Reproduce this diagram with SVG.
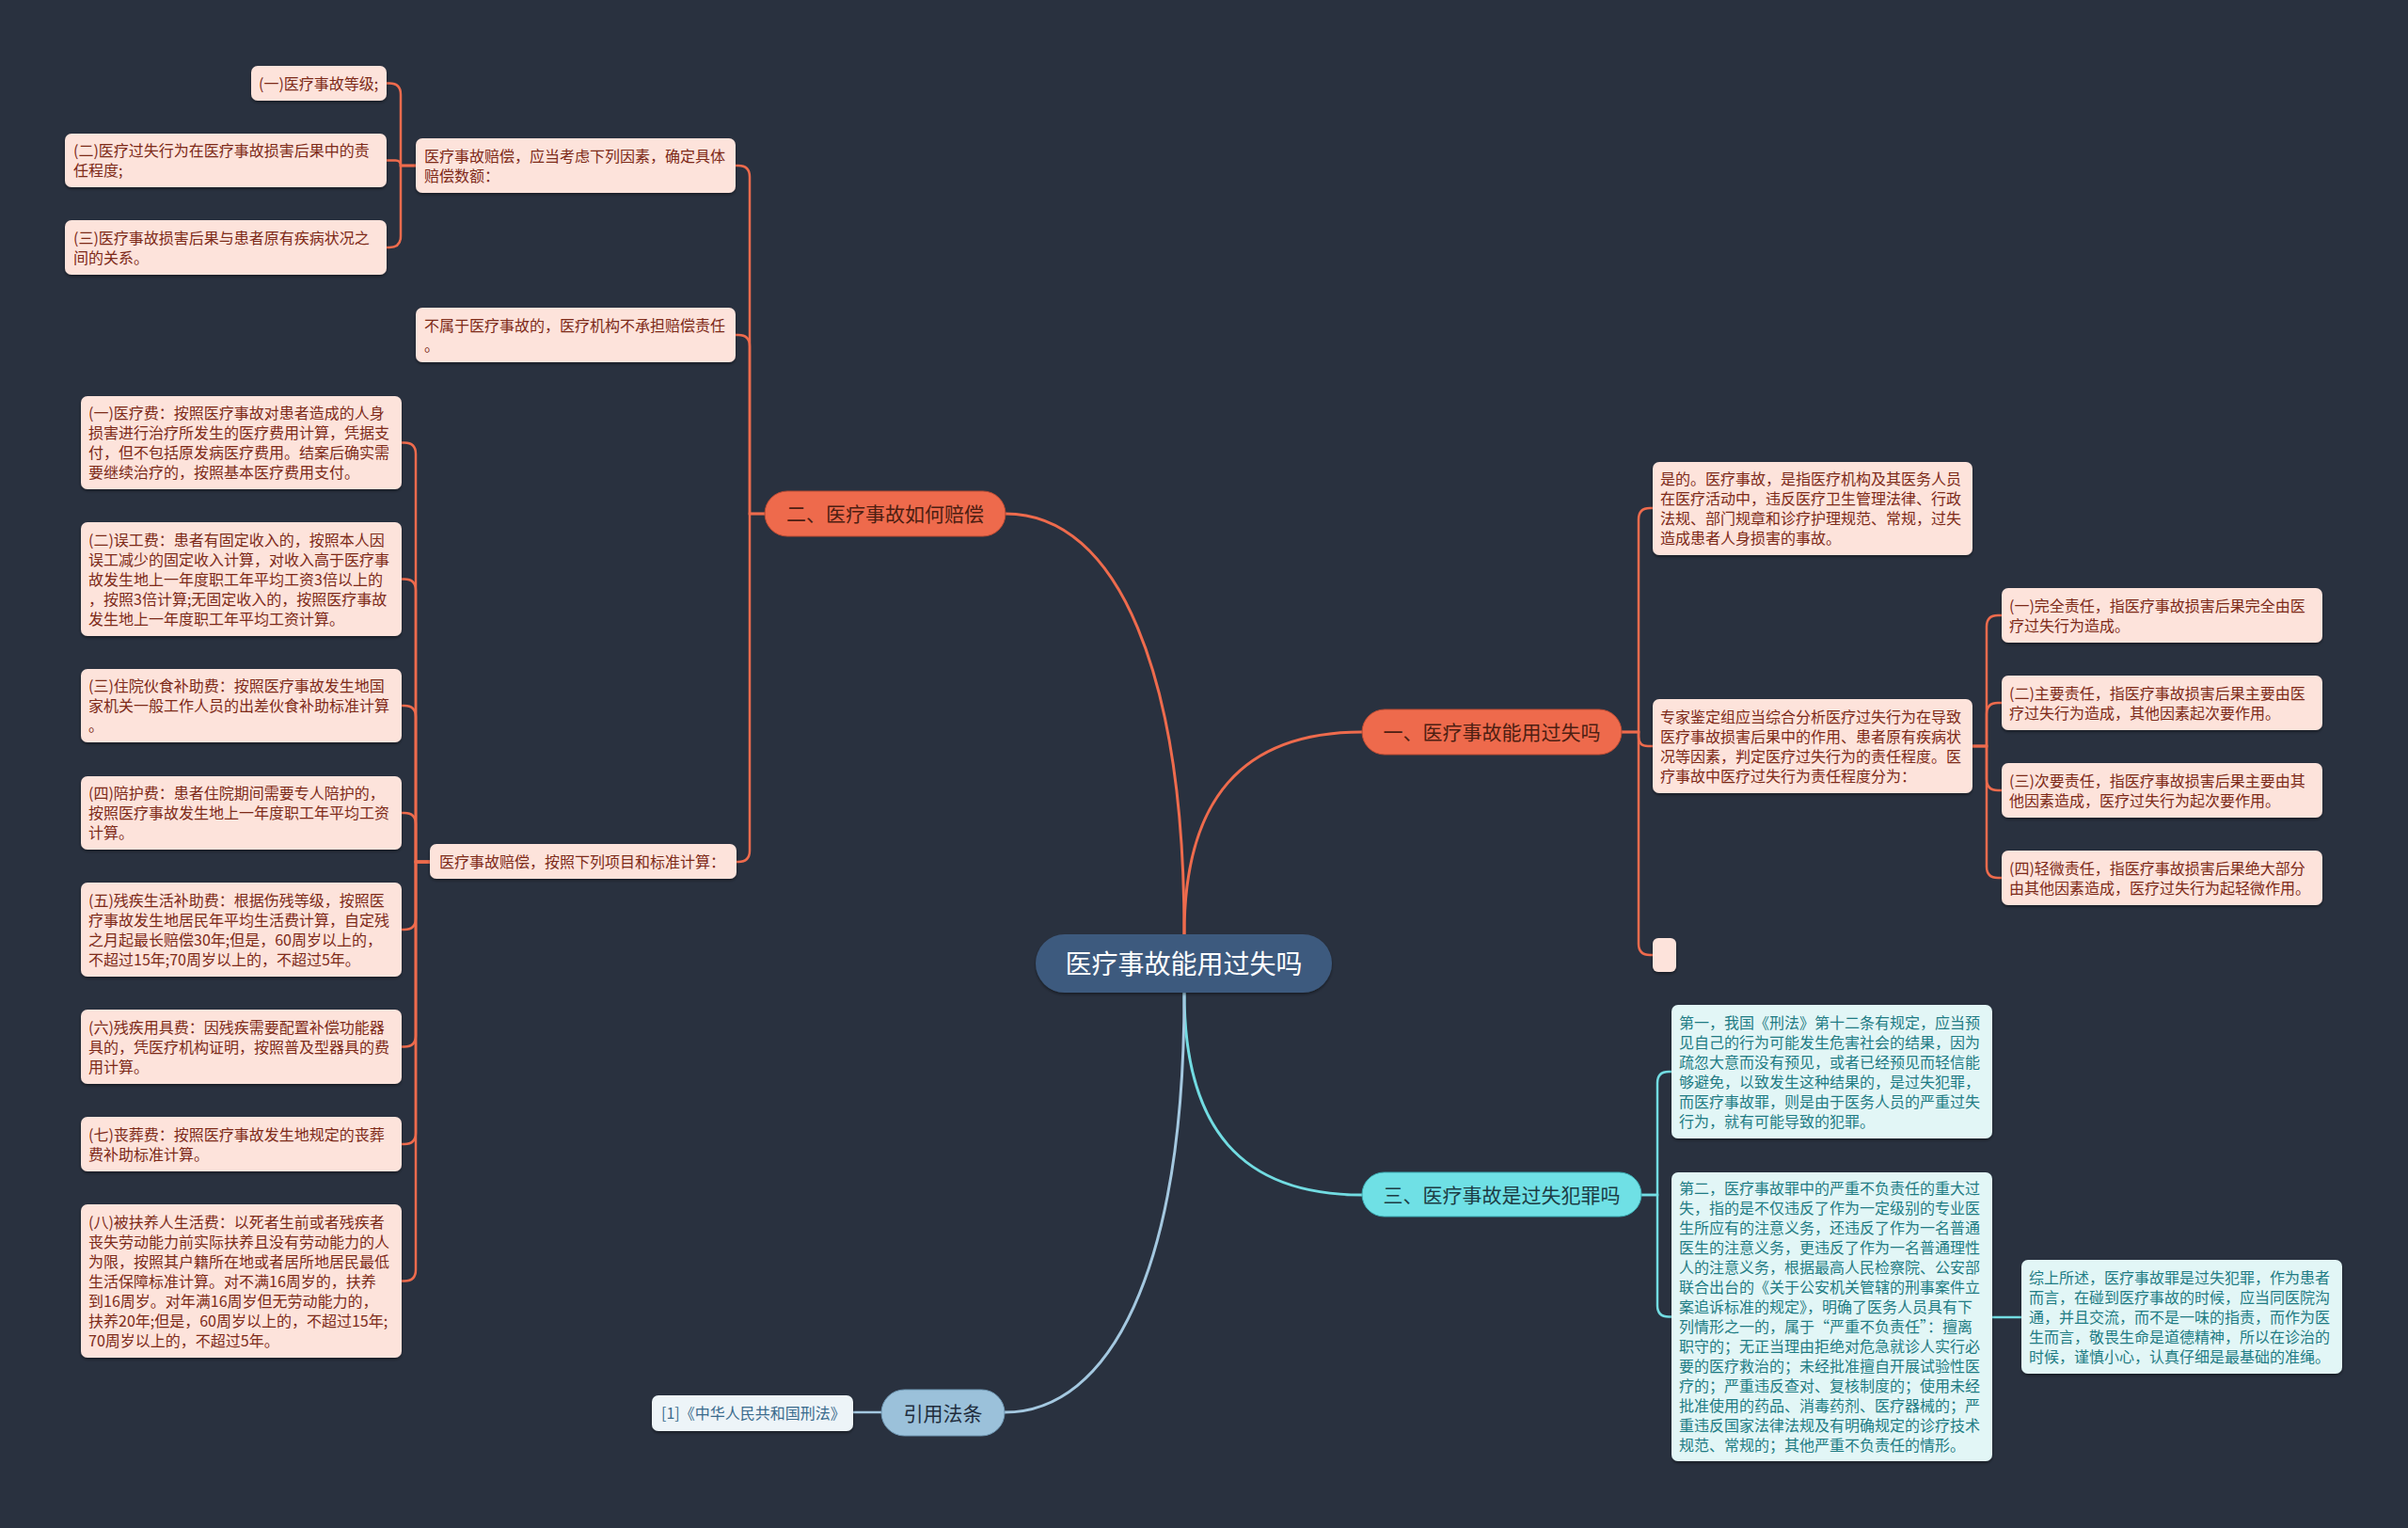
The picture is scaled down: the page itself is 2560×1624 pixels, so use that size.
<svg xmlns="http://www.w3.org/2000/svg" width="2560" height="1624" viewBox="0 0 2560 1624">
<defs>
<filter id="sh" x="-10%" y="-10%" width="120%" height="130%">
<feDropShadow dx="0" dy="2" stdDeviation="1.5" flood-color="#000" flood-opacity="0.4"/>
</filter>
<style>
text{font-family:"Noto Sans CJK SC","Noto Sans",sans-serif;}
.lo{fill:#fde3db;filter:url(#sh);}
.lc{fill:#e2f6f6;filter:url(#sh);}
.tl{font-size:16px;fill:#7d2a18;}
.tc{font-size:16px;fill:#1f7c84;}
.co{fill:none;stroke:#ee6b4d;stroke-width:2.5;}
.cc{fill:none;stroke:#72dce2;stroke-width:2.5;}
.cb{fill:none;stroke:#a4c8e0;stroke-width:2.5;}
.bo{fill:#ee6a4c;stroke:#b84a33;stroke-width:1;}
.bt{font-size:21px;fill:#4d1e12;text-anchor:middle;}
</style>
</defs>
<rect width="2560" height="1624" fill="#29313f"/>

<g id="connectors">
<path class="co" style="stroke-width:3" d="M1259 993 C1259 720 1190 546 1069 546"/>
<path class="co" style="stroke-width:3" d="M1259 993 C1259 850 1320 778 1448 778"/>
<path class="cc" style="stroke-width:3" d="M1259 1055 C1259 1200 1320 1270 1448 1270"/>
<path class="cb" style="stroke-width:3" d="M1259 1055 C1259 1350 1180 1501 1068 1501"/>

<path class="co" d="M813 546 H797 V188 Q797 176 785 176 H782"/>
<path class="co" d="M813 546 H797 V368 Q797 356 785 356 H782"/>
<path class="co" d="M813 546 H797 V904 Q797 916 785 916 H782"/>

<path class="co" d="M442 176 H426 V100.5 Q426 88.5 414 88.5 H411"/>
<path class="co" d="M442 176 H426 Q426 170.5 420.5 170.5 H411"/>
<path class="co" d="M442 176 H426 V251 Q426 263 414 263 H411"/>

<path class="co" d="M457 916 H442 V482.5 Q442 470.5 430 470.5 H427"/>
<path class="co" d="M457 916 H442 V627.5 Q442 615.5 430 615.5 H427"/>
<path class="co" d="M457 916 H442 V762 Q442 750 430 750 H427"/>
<path class="co" d="M457 916 H442 V876 Q442 864 430 864 H427"/>
<path class="co" d="M457 916 H442 V976 Q442 988 430 988 H427"/>
<path class="co" d="M457 916 H442 V1100.5 Q442 1112.5 430 1112.5 H427"/>
<path class="co" d="M457 916 H442 V1204 Q442 1216 430 1216 H427"/>
<path class="co" d="M457 916 H442 V1349.5 Q442 1361.5 430 1361.5 H427"/>

<path class="co" d="M1724 778 H1742 V552 Q1742 540 1754 540 H1757"/>
<path class="co" d="M1724 778 H1742 V783 Q1742 793 1752 793 H1757"/>
<path class="co" d="M1724 778 H1742 V1003 Q1742 1015 1754 1015 H1757"/>

<path class="co" d="M2097 793 H2112 V666 Q2112 654 2124 654 H2128"/>
<path class="co" d="M2097 793 H2112 V759 Q2112 747 2124 747 H2128"/>
<path class="co" d="M2097 793 H2112 V828 Q2112 840 2124 840 H2128"/>
<path class="co" d="M2097 793 H2112 V921 Q2112 933 2124 933 H2128"/>

<path class="cc" d="M1745 1270 H1762 V1151 Q1762 1139 1774 1139 H1777"/>
<path class="cc" d="M1745 1270 H1762 V1387.5 Q1762 1399.5 1774 1399.5 H1777"/>
<path class="cc" d="M2118 1400 H2149"/>

<path class="cb" d="M937 1501 H907"/>
</g>

<g id="root">
<rect x="1101" y="993" width="315" height="62" rx="31" fill="#3e5a7e" filter="url(#sh)"/>
<text x="1258.5" y="1034.5" font-size="28" fill="#ffffff" text-anchor="middle">医疗事故能用过失吗</text>
</g>

<g id="branch1">
<rect class="bo" x="1448" y="754" width="276" height="48" rx="24"/>
<text class="bt" x="1586" y="786">一、医疗事故能用过失吗</text>
</g>
<g id="branch2">
<rect class="bo" x="813" y="522" width="256" height="48" rx="24"/>
<text class="bt" x="941" y="554">二、医疗事故如何赔偿</text>
</g>
<g id="branch3">
<rect x="1448" y="1246" width="297" height="47" rx="23.5" fill="#6fe0e5" stroke="#3aa9b0" stroke-width="1"/>
<text x="1596.5" y="1277.5" font-size="21" fill="#1c3c44" text-anchor="middle">三、医疗事故是过失犯罪吗</text>
</g>
<g id="branch4">
<rect x="937" y="1477" width="131" height="49" rx="24.5" fill="#9bc1da" stroke="#6f97b3" stroke-width="1"/>
<text x="1002.5" y="1509.5" font-size="21" fill="#1f2d3d" text-anchor="middle">引用法条</text>
</g>
<g id="cite1">
<rect x="693" y="1483" width="214" height="38" rx="7" fill="#edf4f8" filter="url(#sh)"/>
<text x="703" y="1508" font-size="16" fill="#3a6a8c">[1]《中华人民共和国刑法》</text>
</g>

<g id="p1">
<rect class="lo" x="442" y="147" width="340" height="58" rx="7"/>
<text class="tl" x="451" y="171.5">医疗事故赔偿，应当考虑下列因素，确定具体<tspan x="451" dy="21">赔偿数额：</tspan></text>
</g>
<g id="a1">
<rect class="lo" x="267" y="70" width="144" height="37" rx="7"/>
<text class="tl" x="275" y="94.5">(一)医疗事故等级;</text>
</g>
<g id="a2">
<rect class="lo" x="69" y="142" width="342" height="57" rx="7"/>
<text class="tl" x="78" y="166">(二)医疗过失行为在医疗事故损害后果中的责<tspan x="78" dy="21">任程度;</tspan></text>
</g>
<g id="a3">
<rect class="lo" x="69" y="234" width="342" height="58" rx="7"/>
<text class="tl" x="78" y="258.5">(三)医疗事故损害后果与患者原有疾病状况之<tspan x="78" dy="21">间的关系。</tspan></text>
</g>
<g id="p2">
<rect class="lo" x="442" y="327" width="340" height="58" rx="7"/>
<text class="tl" x="451" y="351.5">不属于医疗事故的，医疗机构不承担赔偿责任<tspan x="451" dy="21">。</tspan></text>
</g>
<g id="p3">
<rect class="lo" x="457" y="897" width="326" height="37" rx="7"/>
<text class="tl" x="467" y="921.5">医疗事故赔偿，按照下列项目和标准计算：</text>
</g>

<g id="b1">
<rect class="lo" x="86" y="421" width="341" height="99" rx="7"/>
<text class="tl" x="94" y="445">(一)医疗费：按照医疗事故对患者造成的人身<tspan x="94" dy="21">损害进行治疗所发生的医疗费用计算，凭据支</tspan><tspan x="94" dy="21">付，但不包括原发病医疗费用。结案后确实需</tspan><tspan x="94" dy="21">要继续治疗的，按照基本医疗费用支付。</tspan></text>
</g>
<g id="b2">
<rect class="lo" x="86" y="555" width="341" height="121" rx="7"/>
<text class="tl" x="94" y="579.5">(二)误工费：患者有固定收入的，按照本人因<tspan x="94" dy="21">误工减少的固定收入计算，对收入高于医疗事</tspan><tspan x="94" dy="21">故发生地上一年度职工年平均工资3倍以上的</tspan><tspan x="94" dy="21">，按照3倍计算;无固定收入的，按照医疗事故</tspan><tspan x="94" dy="21">发生地上一年度职工年平均工资计算。</tspan></text>
</g>
<g id="b3">
<rect class="lo" x="86" y="711" width="341" height="78" rx="7"/>
<text class="tl" x="94" y="735">(三)住院伙食补助费：按照医疗事故发生地国<tspan x="94" dy="21">家机关一般工作人员的出差伙食补助标准计算</tspan><tspan x="94" dy="21">。</tspan></text>
</g>
<g id="b4">
<rect class="lo" x="86" y="825" width="341" height="78" rx="7"/>
<text class="tl" x="94" y="849">(四)陪护费：患者住院期间需要专人陪护的，<tspan x="94" dy="21">按照医疗事故发生地上一年度职工年平均工资</tspan><tspan x="94" dy="21">计算。</tspan></text>
</g>
<g id="b5">
<rect class="lo" x="86" y="938" width="341" height="100" rx="7"/>
<text class="tl" x="94" y="962.5">(五)残疾生活补助费：根据伤残等级，按照医<tspan x="94" dy="21">疗事故发生地居民年平均生活费计算，自定残</tspan><tspan x="94" dy="21">之月起最长赔偿30年;但是，60周岁以上的，</tspan><tspan x="94" dy="21">不超过15年;70周岁以上的，不超过5年。</tspan></text>
</g>
<g id="b6">
<rect class="lo" x="86" y="1073" width="341" height="79" rx="7"/>
<text class="tl" x="94" y="1097.5">(六)残疾用具费：因残疾需要配置补偿功能器<tspan x="94" dy="21">具的，凭医疗机构证明，按照普及型器具的费</tspan><tspan x="94" dy="21">用计算。</tspan></text>
</g>
<g id="b7">
<rect class="lo" x="86" y="1187" width="341" height="58" rx="7"/>
<text class="tl" x="94" y="1211.5">(七)丧葬费：按照医疗事故发生地规定的丧葬<tspan x="94" dy="21">费补助标准计算。</tspan></text>
</g>
<g id="b8">
<rect class="lo" x="86" y="1280" width="341" height="163" rx="7"/>
<text class="tl" x="94" y="1304.5">(八)被扶养人生活费：以死者生前或者残疾者<tspan x="94" dy="21">丧失劳动能力前实际扶养且没有劳动能力的人</tspan><tspan x="94" dy="21">为限，按照其户籍所在地或者居所地居民最低</tspan><tspan x="94" dy="21">生活保障标准计算。对不满16周岁的，扶养</tspan><tspan x="94" dy="21">到16周岁。对年满16周岁但无劳动能力的，</tspan><tspan x="94" dy="21">扶养20年;但是，60周岁以上的，不超过15年;</tspan><tspan x="94" dy="21">70周岁以上的，不超过5年。</tspan></text>
</g>

<g id="r1">
<rect class="lo" x="1757" y="491" width="340" height="99" rx="7"/>
<text class="tl" x="1765" y="515">是的。医疗事故，是指医疗机构及其医务人员<tspan x="1765" dy="21">在医疗活动中，违反医疗卫生管理法律、行政</tspan><tspan x="1765" dy="21">法规、部门规章和诊疗护理规范、常规，过失</tspan><tspan x="1765" dy="21">造成患者人身损害的事故。</tspan></text>
</g>
<g id="r2">
<rect class="lo" x="1757" y="743" width="340" height="100" rx="7"/>
<text class="tl" x="1765" y="767.5">专家鉴定组应当综合分析医疗过失行为在导致<tspan x="1765" dy="21">医疗事故损害后果中的作用、患者原有疾病状</tspan><tspan x="1765" dy="21">况等因素，判定医疗过失行为的责任程度。医</tspan><tspan x="1765" dy="21">疗事故中医疗过失行为责任程度分为：</tspan></text>
</g>
<g id="r3">
<rect class="lo" x="1757" y="997" width="25" height="36" rx="6"/>
</g>
<g id="c1">
<rect class="lo" x="2128" y="625" width="341" height="58" rx="7"/>
<text class="tl" x="2136" y="649.5">(一)完全责任，指医疗事故损害后果完全由医<tspan x="2136" dy="21">疗过失行为造成。</tspan></text>
</g>
<g id="c2">
<rect class="lo" x="2128" y="718" width="341" height="58" rx="7"/>
<text class="tl" x="2136" y="742.5">(二)主要责任，指医疗事故损害后果主要由医<tspan x="2136" dy="21">疗过失行为造成，其他因素起次要作用。</tspan></text>
</g>
<g id="c3">
<rect class="lo" x="2128" y="811" width="341" height="58" rx="7"/>
<text class="tl" x="2136" y="835.5">(三)次要责任，指医疗事故损害后果主要由其<tspan x="2136" dy="21">他因素造成，医疗过失行为起次要作用。</tspan></text>
</g>
<g id="c4">
<rect class="lo" x="2128" y="904" width="341" height="58" rx="7"/>
<text class="tl" x="2136" y="928.5">(四)轻微责任，指医疗事故损害后果绝大部分<tspan x="2136" dy="21">由其他因素造成，医疗过失行为起轻微作用。</tspan></text>
</g>

<g id="s1">
<rect class="lc" x="1777" y="1068" width="341" height="142" rx="7"/>
<text class="tc" x="1785" y="1092.5">第一，我国《刑法》第十二条有规定，应当预<tspan x="1785" dy="21">见自己的行为可能发生危害社会的结果，因为</tspan><tspan x="1785" dy="21">疏忽大意而没有预见，或者已经预见而轻信能</tspan><tspan x="1785" dy="21">够避免，以致发生这种结果的，是过失犯罪，</tspan><tspan x="1785" dy="21">而医疗事故罪，则是由于医务人员的严重过失</tspan><tspan x="1785" dy="21">行为，就有可能导致的犯罪。</tspan></text>
</g>
<g id="s2">
<rect class="lc" x="1777" y="1246" width="341" height="307" rx="7"/>
<text class="tc" x="1785" y="1269">第二，医疗事故罪中的严重不负责任的重大过<tspan x="1785" dy="21">失，指的是不仅违反了作为一定级别的专业医</tspan><tspan x="1785" dy="21">生所应有的注意义务，还违反了作为一名普通</tspan><tspan x="1785" dy="21">医生的注意义务，更违反了作为一名普通理性</tspan><tspan x="1785" dy="21">人的注意义务，根据最高人民检察院、公安部</tspan><tspan x="1785" dy="21">联合出台的《关于公安机关管辖的刑事案件立</tspan><tspan x="1785" dy="21">案追诉标准的规定》，明确了医务人员具有下</tspan><tspan x="1785" dy="21">列情形之一的，属于“严重不负责任”：擅离</tspan><tspan x="1785" dy="21">职守的；无正当理由拒绝对危急就诊人实行必</tspan><tspan x="1785" dy="21">要的医疗救治的；未经批准擅自开展试验性医</tspan><tspan x="1785" dy="21">疗的；严重违反查对、复核制度的；使用未经</tspan><tspan x="1785" dy="21">批准使用的药品、消毒药剂、医疗器械的；严</tspan><tspan x="1785" dy="21">重违反国家法律法规及有明确规定的诊疗技术</tspan><tspan x="1785" dy="21">规范、常规的；其他严重不负责任的情形。</tspan></text>
</g>
<g id="s3">
<rect class="lc" x="2149" y="1339" width="341" height="121" rx="7"/>
<text class="tc" x="2157" y="1363.5">综上所述，医疗事故罪是过失犯罪，作为患者<tspan x="2157" dy="21">而言，在碰到医疗事故的时候，应当同医院沟</tspan><tspan x="2157" dy="21">通，并且交流，而不是一味的指责，而作为医</tspan><tspan x="2157" dy="21">生而言，敬畏生命是道德精神，所以在诊治的</tspan><tspan x="2157" dy="21">时候，谨慎小心，认真仔细是最基础的准绳。</tspan></text>
</g>
</svg>
